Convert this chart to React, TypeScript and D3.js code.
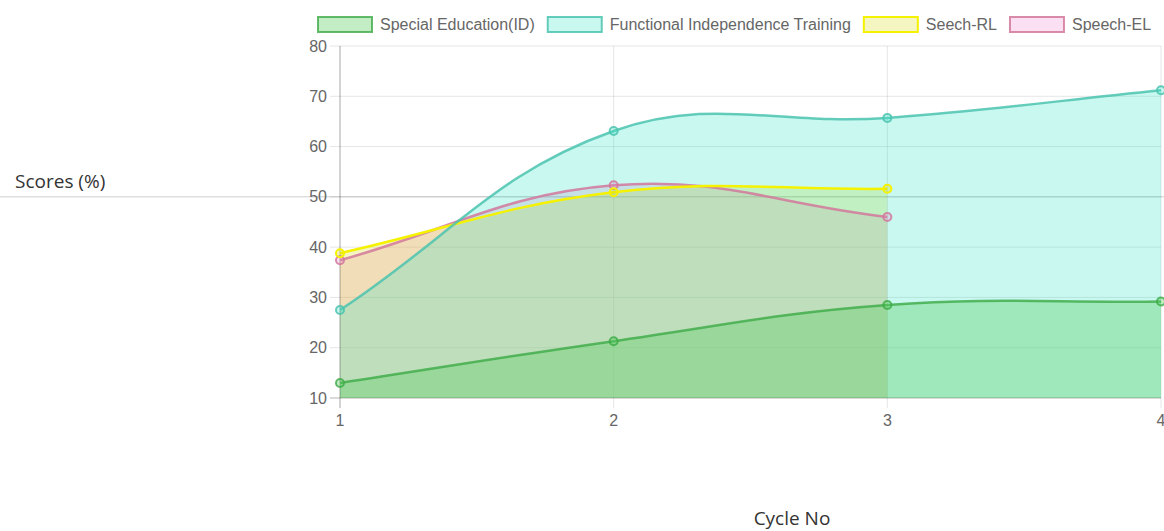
import React, { useRef, useEffect } from 'react';
import * as d3 from 'd3';

// chart values
const cycles = [1, 2, 3, 4];
const yTicks = [10, 20, 30, 40, 50, 60, 70, 80];
const specialEdScores = [13.0, 21.3, 28.5, 29.2];
const fitScores = [27.5, 63.1, 65.7, 71.2];
const seechRLScores = [38.8, 50.9, 51.6];
const speechELScores = [37.4, 52.3, 46.0];

const seriesNames = ['Special Education(ID)', 'Functional Independence Training', 'Seech-RL', 'Speech-EL'];

const W = 1164;
const H = 531;
const margin = { top: 46, right: 3, bottom: 133, left: 340 };

type Pt = { x: number; y: number };

// same bezier smoothing as chart.js (tension .4)
function splinePath(pts: Pt[], top: number, bottom: number) {
  const t = 0.4;
  const cps = pts.map((cur, i) => {
    const prev = pts[i - 1] || cur;
    const next = pts[i + 1] || cur;
    const d01 = Math.hypot(cur.x - prev.x, cur.y - prev.y);
    const d12 = Math.hypot(next.x - cur.x, next.y - cur.y);
    let s01 = d01 / (d01 + d12);
    let s12 = d12 / (d01 + d12);
    if (isNaN(s01)) s01 = 0;
    if (isNaN(s12)) s12 = 0;
    const fa = t * s01, fb = t * s12;
    const clampY = (v: number) => Math.max(top, Math.min(bottom, v));
    return {
      px: cur.x - fa * (next.x - prev.x),
      py: clampY(cur.y - fa * (next.y - prev.y)),
      nx: cur.x + fb * (next.x - prev.x),
      ny: clampY(cur.y + fb * (next.y - prev.y)),
    };
  });
  let d = `M${pts[0].x},${pts[0].y}`;
  for (let i = 1; i < pts.length; i++) {
    d += `C${cps[i - 1].nx},${cps[i - 1].ny},${cps[i].px},${cps[i].py},${pts[i].x},${pts[i].y}`;
  }
  return d;
}

export default function App() {
  const ref = useRef<SVGSVGElement>(null);

  useEffect(() => {
    const svg = d3.select(ref.current);
    svg.selectAll('*').remove();

    const x = d3.scaleLinear().domain([1, 4]).range([margin.left, W - margin.right]);
    const y = d3.scaleLinear().domain([10, 80]).range([H - margin.bottom, margin.top]);
    const top = y(80), bottom = y(10);

    const tickFont = '"Liberation Sans", Arial, Helvetica, sans-serif';

    // grid
    const grid = svg.append('g');
    yTicks.forEach(v => {
      grid.append('line')
        .attr('x1', x(1) - 10).attr('x2', x(4))
        .attr('y1', y(v)).attr('y2', y(v))
        .attr('stroke', 'rgba(0,0,0,0.1)').attr('stroke-width', 1);
    });
    cycles.forEach(c => {
      grid.append('line')
        .attr('x1', x(c)).attr('x2', x(c))
        .attr('y1', top).attr('y2', bottom + 10)
        .attr('stroke', 'rgba(0,0,0,0.1)').attr('stroke-width', 1);
    });
    // long line through 50
    grid.append('line')
      .attr('x1', 0).attr('x2', W)
      .attr('y1', y(50)).attr('y2', y(50))
      .attr('stroke', 'rgba(0,0,0,0.13)').attr('stroke-width', 1.5);

    const series = [
      { name: seriesNames[0], vals: specialEdScores, fill: 'rgba(85,205,95,0.36)', line: 'rgba(60,170,70,0.8)' },
      { name: seriesNames[1], vals: fitScores, fill: 'rgba(55,228,200,0.27)', line: 'rgba(75,195,175,0.85)' },
      { name: seriesNames[2], vals: seechRLScores, fill: 'rgba(215,215,0,0.24)', line: '#f5f200' },
      { name: seriesNames[3], vals: speechELScores, fill: 'rgba(235,130,205,0.25)', line: 'rgba(210,120,155,0.85)' },
    ];

    // fills (last dataset drawn first)
    const fills = svg.append('g');
    [...series].reverse().forEach(s => {
      const pts = s.vals.map((v, i) => ({ x: x(cycles[i]), y: y(v) }));
      const d = splinePath(pts, top, bottom) +
        `L${pts[pts.length - 1].x},${bottom}L${pts[0].x},${bottom}Z`;
      fills.append('path').attr('d', d).attr('fill', s.fill);
    });

    // axis lines
    svg.append('line')
      .attr('x1', x(1)).attr('x2', x(1)).attr('y1', top).attr('y2', bottom + 10)
      .attr('stroke', 'rgba(0,0,0,0.25)');
    svg.append('line')
      .attr('x1', x(1) - 10).attr('x2', x(4)).attr('y1', bottom).attr('y2', bottom)
      .attr('stroke', 'rgba(0,0,0,0.2)');

    // lines + points
    const lines = svg.append('g');
    [...series].reverse().forEach(s => {
      const pts = s.vals.map((v, i) => ({ x: x(cycles[i]), y: y(v) }));
      lines.append('path').attr('d', splinePath(pts, top, bottom))
        .attr('fill', 'none').attr('stroke', s.line).attr('stroke-width', 2.5);
    });
    [...series].reverse().forEach(s => {
      lines.selectAll(null).data(s.vals).enter().append('circle')
        .attr('cx', (d, i) => x(cycles[i]))
        .attr('cy', d => y(d))
        .attr('r', 4)
        .attr('fill', s.fill)
        .attr('stroke', s.line)
        .attr('stroke-width', 2);
    });

    // tick labels
    svg.append('g').selectAll('text').data(yTicks).enter().append('text')
      .attr('x', x(1) - 13).attr('y', d => y(d)).attr('dy', '0.35em')
      .attr('text-anchor', 'end')
      .style('font-family', tickFont).style('font-size', '16px').attr('fill', '#666')
      .text(d => d);
    svg.append('g').selectAll('text').data(cycles).enter().append('text')
      .attr('x', d => x(d)).attr('y', bottom + 28)
      .attr('text-anchor', 'middle')
      .style('font-family', tickFont).style('font-size', '16px').attr('fill', '#666')
      .text(d => d);

    // axis titles
    const titleFont = '"Open Sans", "Noto Sans", sans-serif';
    svg.append('text').attr('x', 15).attr('y', 188)
      .style('font-family', titleFont).style('font-size', '19px').attr('fill', '#333')
      .text('Scores (%)');
    svg.append('text').attr('x', 792).attr('y', 525).attr('text-anchor', 'middle')
      .style('font-family', titleFont).style('font-size', '19px').attr('fill', '#333')
      .text('Cycle No');

    // legend
    const leg = svg.append('g');
    let lx = 318;
    series.forEach(s => {
      leg.append('rect').attr('x', lx).attr('y', 17).attr('width', 54).attr('height', 15)
        .attr('fill', s.fill).attr('stroke', s.line).attr('stroke-width', 2);
      const txt = leg.append('text').attr('x', lx + 62).attr('y', 30)
        .style('font-family', tickFont).style('font-size', '16px').attr('fill', '#666')
        .text(s.name);
      const w = (txt.node() as SVGTextElement).getComputedTextLength();
      lx = lx + 62 + w + 13;
    });
  }, []);

  return (
    <div style={{ position: 'absolute', left: 0, top: 0 }}>
      <svg ref={ref} width={W} height={H} style={{ display: 'block' }}></svg>
    </div>
  );
}
